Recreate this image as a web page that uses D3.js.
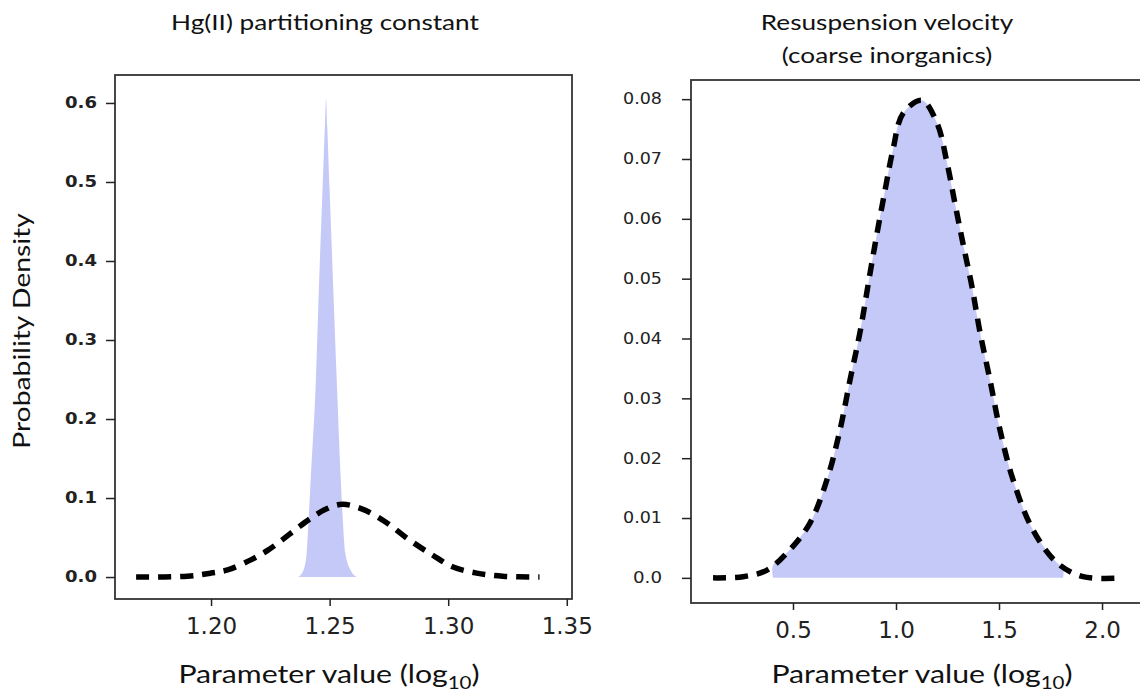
<!DOCTYPE html>
<html>
<head>
<meta charset="utf-8">
<script src="https://cdn.jsdelivr.net/npm/d3@7"></script>
<style>
  body { margin: 0; background: #fff; }
  svg { display: block; }
  .tick line { stroke: #222; stroke-width: 1.5; }
</style>
</head>
<body>
<div id="container"></div>
<script>
// left panel: Hg(II) partitioning constant
const leftPriorX = [1.1684, 1.190, 1.200, 1.207, 1.217, 1.224, 1.230, 1.236, 1.2414, 1.2485, 1.2553, 1.2638, 1.2739, 1.2836, 1.2933, 1.3018, 1.312, 1.323, 1.3385];
const leftPriorY = [0, 0.001, 0.005, 0.009, 0.022, 0.034, 0.047, 0.061, 0.073, 0.086, 0.092, 0.086, 0.069, 0.047, 0.028, 0.013, 0.005, 0.001, 0];
const leftPostX = [1.2367, 1.2390, 1.2403, 1.2411, 1.2420, 1.2442, 1.2456, 1.2470, 1.2480, 1.2485, 1.2490, 1.2500, 1.2514, 1.2530, 1.2547, 1.2556, 1.2566, 1.2588, 1.2615];
const leftPostY = [0, 0.009, 0.030, 0.070, 0.123, 0.249, 0.376, 0.490, 0.570, 0.605, 0.570, 0.490, 0.376, 0.249, 0.123, 0.070, 0.030, 0.009, 0];
const leftXTicks = [1.20, 1.25, 1.30, 1.35];
const leftYTicks = [0, 0.1, 0.2, 0.3, 0.4, 0.5, 0.6];

// right panel: resuspension velocity
const rightPriorX = [0.112, 0.257, 0.374, 0.485, 0.583, 0.665, 0.728, 0.777, 0.825, 0.874, 0.908, 0.947, 0.985, 1.034, 1.126, 1.199, 1.248, 1.286, 1.325, 1.369, 1.408, 1.456, 1.505, 1.568, 1.665, 1.782, 1.908, 2.102];
const rightPriorY = [0, 0.0002, 0.0013, 0.0047, 0.0092, 0.0164, 0.0247, 0.0331, 0.0410, 0.0509, 0.0576, 0.0648, 0.0715, 0.0776, 0.0798, 0.0760, 0.0693, 0.0626, 0.0559, 0.0486, 0.0410, 0.0331, 0.0247, 0.0164, 0.0080, 0.0025, 0.0002, 0];
const rightPostX = [0.403, 0.403, 0.485, 0.583, 0.665, 0.728, 0.777, 0.825, 0.874, 0.908, 0.947, 0.985, 1.034, 1.126, 1.199, 1.248, 1.286, 1.325, 1.369, 1.408, 1.456, 1.505, 1.568, 1.665, 1.782, 1.811, 1.811];
const rightPostY = [0, 0.0021, 0.0047, 0.0092, 0.0164, 0.0247, 0.0331, 0.0410, 0.0509, 0.0576, 0.0648, 0.0715, 0.0776, 0.0798, 0.0760, 0.0693, 0.0626, 0.0559, 0.0486, 0.0410, 0.0331, 0.0247, 0.0164, 0.0080, 0.0025, 0.0017, 0];
const rightXTicks = [0.5, 1.0, 1.5, 2.0];
const rightYTicks = [0, 0.01, 0.02, 0.03, 0.04, 0.05, 0.06, 0.07, 0.08];

const w = 1140;
const h = 692;
const fillColor = '#c5c9f8';
const labelFont = 'Lato';
const stretch = 1.19; // the reference text is a bit wider than Lato

const svg = d3.select('#container').append('svg')
    .attr('width', w)
    .attr('height', h);

const zip = (xs, ys) => xs.map((x, i) => [x, ys[i]]);

const drawPanel = (opt) => {
    const x = d3.scaleLinear().domain(opt.xDomain).range([opt.left, opt.right]);
    const y = d3.scaleLinear().domain(opt.yDomain).range([opt.bottom, opt.top]);

    const g = svg.append('g');

    g.append('clipPath')
        .attr('id', opt.id + '-clip')
        .append('rect')
        .attr('x', opt.left)
        .attr('y', opt.top)
        .attr('width', opt.right - opt.left)
        .attr('height', opt.bottom - opt.top);

    const plot = g.append('g').attr('clip-path', `url(#${opt.id}-clip)`);

    const area = d3.area()
        .x(d => x(d[0]))
        .y0(y(0))
        .y1(d => y(d[1]))
        .curve(opt.postCurve);

    plot.append('path')
        .datum(zip(opt.postX, opt.postY))
        .attr('d', area)
        .attr('fill', fillColor);

    const line = d3.line()
        .x(d => x(d[0]))
        .y(d => y(d[1]))
        .curve(d3.curveCatmullRom);

    plot.append('path')
        .datum(zip(opt.priorX, opt.priorY))
        .attr('d', line)
        .attr('fill', 'none')
        .attr('stroke', '#000')
        .attr('stroke-width', 5.5)
        .attr('stroke-dasharray', '13,9');

    // frame
    g.append('rect')
        .attr('x', opt.left)
        .attr('y', opt.top)
        .attr('width', opt.right - opt.left)
        .attr('height', opt.bottom - opt.top)
        .attr('fill', 'none')
        .attr('stroke', '#333')
        .attr('stroke-width', 1.8);

    const xAxis = g.append('g')
        .attr('transform', `translate(0,${opt.bottom})`)
        .call(d3.axisBottom(x).tickValues(opt.xTicks).tickFormat(d3.format(opt.xFormat)).tickSize(7).tickPadding(12));
    xAxis.select('.domain').remove();
    xAxis.selectAll('text')
        .attr('font-family', 'DejaVu Sans')
        .attr('font-size', 23)
        .attr('fill', '#222');

    const yAxis = g.append('g')
        .attr('transform', `translate(${opt.left},0)`)
        .call(d3.axisLeft(y).tickValues(opt.yTicks).tickFormat(opt.yFormat).tickSize(opt.yTickSize).tickPadding(opt.yPadding));
    yAxis.select('.domain').remove();
    yAxis.selectAll('text')
        .attr('font-family', 'DejaVu Sans')
        .attr('font-size', opt.yFontSize)
        .attr('font-weight', opt.yWeight)
        .attr('fill', '#222')
        .attr('textLength', d => opt.yTextLength(d))
        .attr('lengthAdjust', 'spacingAndGlyphs');

    // title
    opt.title.forEach((t, i) => {
        g.append('text')
            .attr('transform', `translate(${opt.titleX},${30 + i * 33}) scale(${stretch},1)`)
            .attr('text-anchor', 'middle')
            .attr('font-family', labelFont)
            .attr('font-size', 22)
            .attr('fill', '#111')
            .text(t);
    });

    // x label with subscript
    const xl = g.append('text')
        .attr('transform', `translate(${opt.xLabelX},683) scale(1.21,1)`)
        .attr('text-anchor', 'middle')
        .attr('font-family', labelFont)
        .attr('font-size', 25)
        .attr('fill', '#111');
    xl.append('tspan').text('Parameter value (log');
    xl.append('tspan').attr('font-size', 17).attr('dy', 6).text('10');
    xl.append('tspan').attr('dy', -6).text(')');
};

drawPanel({
    id: 'left',
    left: 115, right: 572, top: 75, bottom: 599,
    xDomain: [1.1595, 1.3522],
    yDomain: [-0.0278, 0.6354],
    priorX: leftPriorX, priorY: leftPriorY,
    postX: leftPostX, postY: leftPostY,
    postCurve: d3.curveMonotoneX,
    xTicks: leftXTicks, xFormat: '.2f',
    yTicks: leftYTicks, yFormat: d3.format('.1f'),
    yTickSize: 9, yPadding: 9,
    yFontSize: 15, yWeight: 'bold', yTextLength: () => 32,
    title: ['Hg(II) partitioning constant'], titleX: 325,
    xLabelX: 329
});

drawPanel({
    id: 'right',
    left: 691, right: 1142, top: 80, bottom: 603,
    xDomain: [0.005, 2.194],
    yDomain: [-0.0042, 0.0832],
    priorX: rightPriorX, priorY: rightPriorY,
    postX: rightPostX, postY: rightPostY,
    postCurve: d3.curveCatmullRom,
    xTicks: rightXTicks, xFormat: '.1f',
    yTicks: rightYTicks, yFormat: d => d === 0 ? '0.0' : d3.format('.2f')(d),
    yTickSize: 9, yPadding: 20,
    yFontSize: 15, yWeight: 'normal', yTextLength: d => d === 0 ? 29 : 39,
    title: ['Resuspension velocity', '(coarse inorganics)'], titleX: 887,
    xLabelX: 922
});

svg.append('text')
    .attr('transform', 'translate(30,331) rotate(-90) scale(1.18,1)')
    .attr('text-anchor', 'middle')
    .attr('font-family', labelFont)
    .attr('font-size', 24)
    .attr('fill', '#111')
    .text('Probability Density');
</script>
</body>
</html>
